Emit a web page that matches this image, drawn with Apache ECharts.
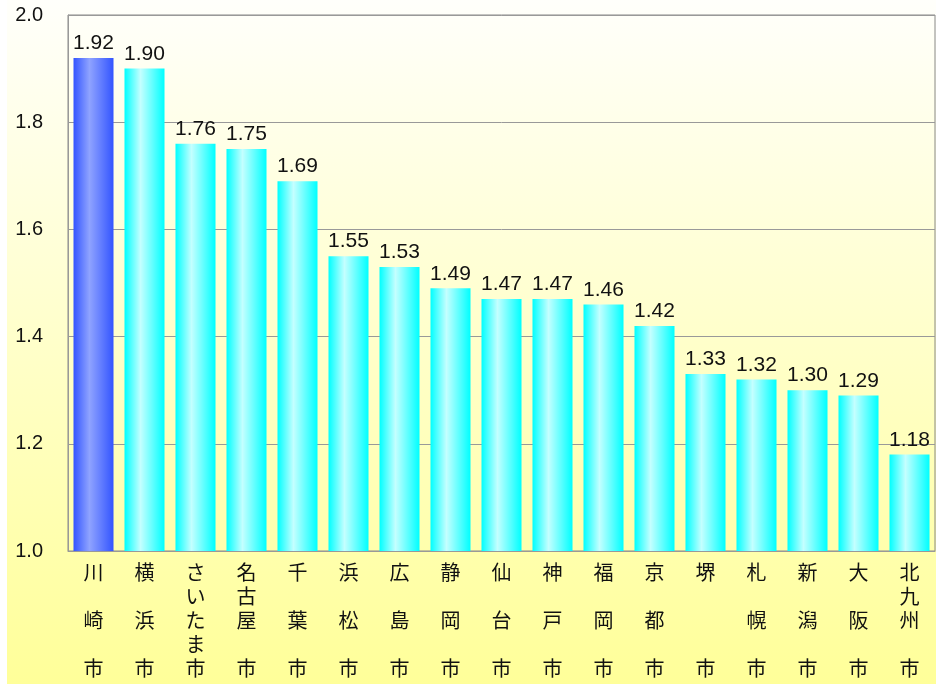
<!DOCTYPE html>
<html>
<head>
<meta charset="utf-8">
<script src="https://cdn.jsdelivr.net/npm/echarts@6/dist/echarts.min.js"></script>
<style>
  html, body { margin: 0; padding: 0; background: #ffffff; }
  #main { width: 936px; height: 684px; }
</style>
</head>
<body>
<div id="main"></div>
<script type="text/javascript">
// 各都市の値（左から順）
var cities = ['川\n\n崎\n\n市', '横\n\n浜\n\n市', 'さ\nい\nた\nま\n市', '名\n古\n屋\n\n市', '千\n\n葉\n\n市',
  '浜\n\n松\n\n市', '広\n\n島\n\n市', '静\n\n岡\n\n市', '仙\n\n台\n\n市', '神\n\n戸\n\n市', '福\n\n岡\n\n市',
  '京\n\n都\n\n市', '堺\n\n\n\n市', '札\n\n幌\n\n市', '新\n\n潟\n\n市', '大\n\n阪\n\n市', '北\n九\n州\n\n市'];
var values = [1.92, 1.90, 1.76, 1.75, 1.69, 1.55, 1.53, 1.49, 1.47, 1.47, 1.46, 1.42, 1.33, 1.32, 1.30, 1.29, 1.18];
var yTicks = [1.0, 1.2, 1.4, 1.6, 1.8, 2.0];
var highlight = 0;

var chart = echarts.init(document.getElementById('main'));

function barGrad(edge, mid) {
  return new echarts.graphic.LinearGradient(0, 0, 1, 0, [
    { offset: 0, color: edge },
    { offset: 0.4, color: mid },
    { offset: 1, color: edge }
  ]);
}

var option = {
  animation: false,
  textStyle: { fontFamily: '"Liberation Sans", Arial, sans-serif' },
  graphic: [{
    type: 'rect',
    z: -10,
    shape: { x: 7, y: 0, width: 929, height: 684 },
    style: {
      fill: new echarts.graphic.LinearGradient(0, 0, 0, 1, [
        { offset: 0, color: '#fffffb' },
        { offset: 1, color: '#ffff99' }
      ])
    }
  }],
  grid: {
    left: 68, right: 1, top: 15, bottom: 133,
    show: true, borderColor: '#888888', borderWidth: 1, backgroundColor: 'transparent'
  },
  xAxis: {
    type: 'category',
    data: cities,
    axisLine: { lineStyle: { color: '#999999' } },
    axisTick: { show: false },
    axisLabel: {
      interval: 0, margin: 9, color: '#111111', fontSize: 20, lineHeight: 24,
      fontFamily: '"Noto Sans CJK JP", sans-serif'
    }
  },
  yAxis: {
    type: 'value',
    min: yTicks[0], max: yTicks[yTicks.length - 1], interval: 0.2,
    axisLine: { show: true, lineStyle: { color: '#999999' } },
    axisTick: { show: false },
    splitLine: { lineStyle: { color: '#999999' } },
    axisLabel: {
      margin: 25, color: '#111111', fontSize: 20,
      formatter: function (v) { return v.toFixed(1); }
    }
  },
  series: [{
    type: 'bar',
    barWidth: 40,
    data: values.map(function (v, i) {
      return {
        value: v,
        itemStyle: { color: i === highlight ? barGrad('#3355ff', '#8fa3ff') : barGrad('#00ffff', '#c4ffff') }
      };
    }),
    label: {
      show: true, position: 'top', distance: 4, color: '#111111', fontSize: 21,
      formatter: function (p) { return p.value.toFixed(2); }
    }
  }]
};

chart.setOption(option);
</script>
</body>
</html>
